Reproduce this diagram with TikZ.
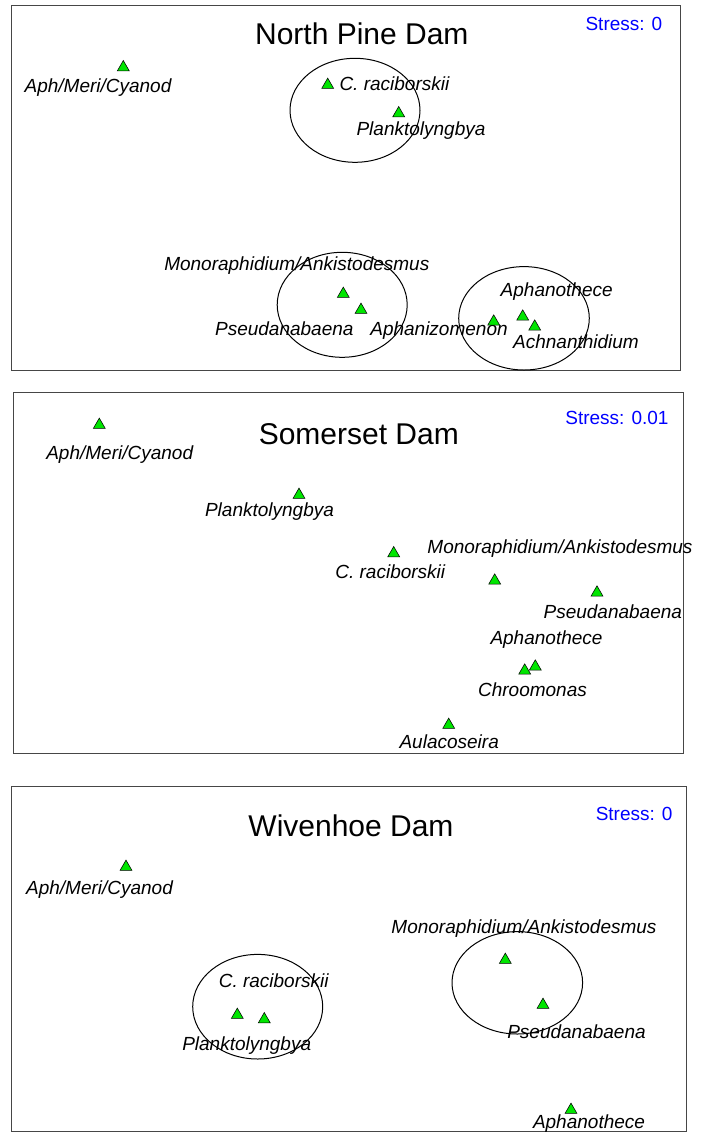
\documentclass[tikz,border=0pt]{standalone}
\usepackage{fontspec}
\setmainfont{Liberation Sans}
\usetikzlibrary{shapes.geometric}
\definecolor{mkgreen}{RGB}{0,230,0}
\definecolor{boxgray}{RGB}{70,70,70}
\tikzset{
  panel/.style={draw=boxgray, line width=0.8pt},
  grp/.style={draw=black, line width=1pt},
  tri/.style={regular polygon, regular polygon sides=3, draw=black, line width=0.55pt, fill=mkgreen, minimum size=13.8pt, inner sep=0pt, yshift=-1.7pt},
  lab/.style={inner sep=0pt, font=\itshape\fontsize{19}{19}\selectfont, text height=13.7pt, text depth=4pt},
  ttl/.style={inner sep=0pt, font=\fontsize{30}{30}\selectfont, text height=21.5pt, text depth=0pt},
  strs/.style={inner sep=0pt, anchor=east, text=blue, font=\fontsize{19}{19}\selectfont, text height=13.7pt, text depth=0pt}
}
\begin{document}
\begin{tikzpicture}[x=1pt,y=-1pt]
\useasboundingbox (0,0) rectangle (704,1133);
\fill[white] (0,0) rectangle (704,1133);

% ---------- Panel 1: North Pine Dam ----------
\draw[panel] (11,5.3) rectangle (680,370);
\node[ttl] (t1) at (361.8,33.7) {North Pine Dam};
\node[strs] (s1) at (662.5,24) {Stress: 0};
\node[lab] (l1a) at (98,87.3) {Aph/Meri/Cyanod};
\node[lab,anchor=west] (l1c) at (339.3,86) {C. raciborskii};
\node[lab] (l1p) at (421,131) {Planktolyngbya};
\node[lab] (l1m) at (296.8,265.7) {Monoraphidium/Ankistodesmus};
\node[lab] (l1ps) at (284.3,331) {Pseudanabaena};
\node[lab] (l1az) at (439,331) {Aphanizomenon};
\node[lab] (l1at) at (556.7,291.7) {Aphanothece};
\node[lab] (l1ac) at (576,343.3) {Achnanthidium};
\draw[grp] (355,110.3) ellipse [x radius=65pt, y radius=52pt];
\draw[grp] (342.2,304.8) ellipse [x radius=65pt, y radius=52.5pt];
\draw[grp] (524,318.3) ellipse [x radius=65.3pt, y radius=51.7pt];
\node[tri] (m1a) at (123.3,65.7) {};
\node[tri] (m1c) at (327.7,83.3) {};
\node[tri] (m1p) at (398.7,111.7) {};
\node[tri] (m1m) at (343.3,292.3) {};
\node[tri] (m1ps) at (361,308.3) {};
\node[tri] (m1az) at (493.7,320) {};
\node[tri] (m1at) at (522.7,315) {};
\node[tri] (m1ac) at (534.7,325) {};

% ---------- Panel 2: Somerset Dam ----------
\draw[panel] (13.3,392.7) rectangle (683,753.3);
\node[ttl] (t2) at (358.8,433.3) {Somerset Dam};
\node[strs] (s2) at (668.7,417.3) {Stress: 0.01};
\node[lab] (l2a) at (119.7,455) {Aph/Meri/Cyanod};
\node[lab] (l2p) at (269.5,511.7) {Planktolyngbya};
\node[lab] (l2c) at (390.3,573.3) {C. raciborskii};
\node[lab] (l2m) at (560,548.3) {Monoraphidium/Ankistodesmus};
\node[lab] (l2ps) at (612.8,613.3) {Pseudanabaena};
\node[lab] (l2at) at (546.5,639.3) {Aphanothece};
\node[lab] (l2ch) at (532.5,691.7) {Chroomonas};
\node[lab] (l2au) at (449.2,743.3) {Aulacoseira};
\node[tri] (m2a) at (99.3,423.3) {};
\node[tri] (m2p) at (299,493.3) {};
\node[tri] (m2c) at (393.7,551.7) {};
\node[tri] (m2m) at (494.7,579) {};
\node[tri] (m2ps) at (597,591) {};
\node[tri] (m2at) at (535.3,665) {};
\node[tri] (m2ch) at (524.7,669) {};
\node[tri] (m2au) at (448.7,723.3) {};

% ---------- Panel 3: Wivenhoe Dam ----------
\draw[panel] (11,786) rectangle (686.3,1131.7);
\node[ttl] (t3) at (351,825.7) {Wivenhoe Dam};
\node[strs] (s3) at (672.7,813.3) {Stress: 0};
\node[lab] (l3a) at (99.5,889.3) {Aph/Meri/Cyanod};
\node[lab] (l3c) at (273.7,982.7) {C. raciborskii};
\node[lab] (l3p) at (246.7,1046) {Planktolyngbya};
\node[lab] (l3m) at (524,928.3) {Monoraphidium/Ankistodesmus};
\node[lab] (l3ps) at (576.5,1033.3) {Pseudanabaena};
\node[lab] (l3at) at (589,1123.3) {Aphanothece};
\draw[grp] (257.7,1006.7) ellipse [x radius=65pt, y radius=52.3pt];
\draw[grp] (517.3,982.8) ellipse [x radius=65.3pt, y radius=51.2pt];
\node[tri] (m3a) at (126,865.3) {};
\node[tri] (m3c) at (237.3,1013.3) {};
\node[tri] (m3p) at (264.3,1017.7) {};
\node[tri] (m3m) at (505.3,958.3) {};
\node[tri] (m3ps) at (543,1003.3) {};
\node[tri] (m3at) at (571,1108.3) {};
\end{tikzpicture}
\end{document}
